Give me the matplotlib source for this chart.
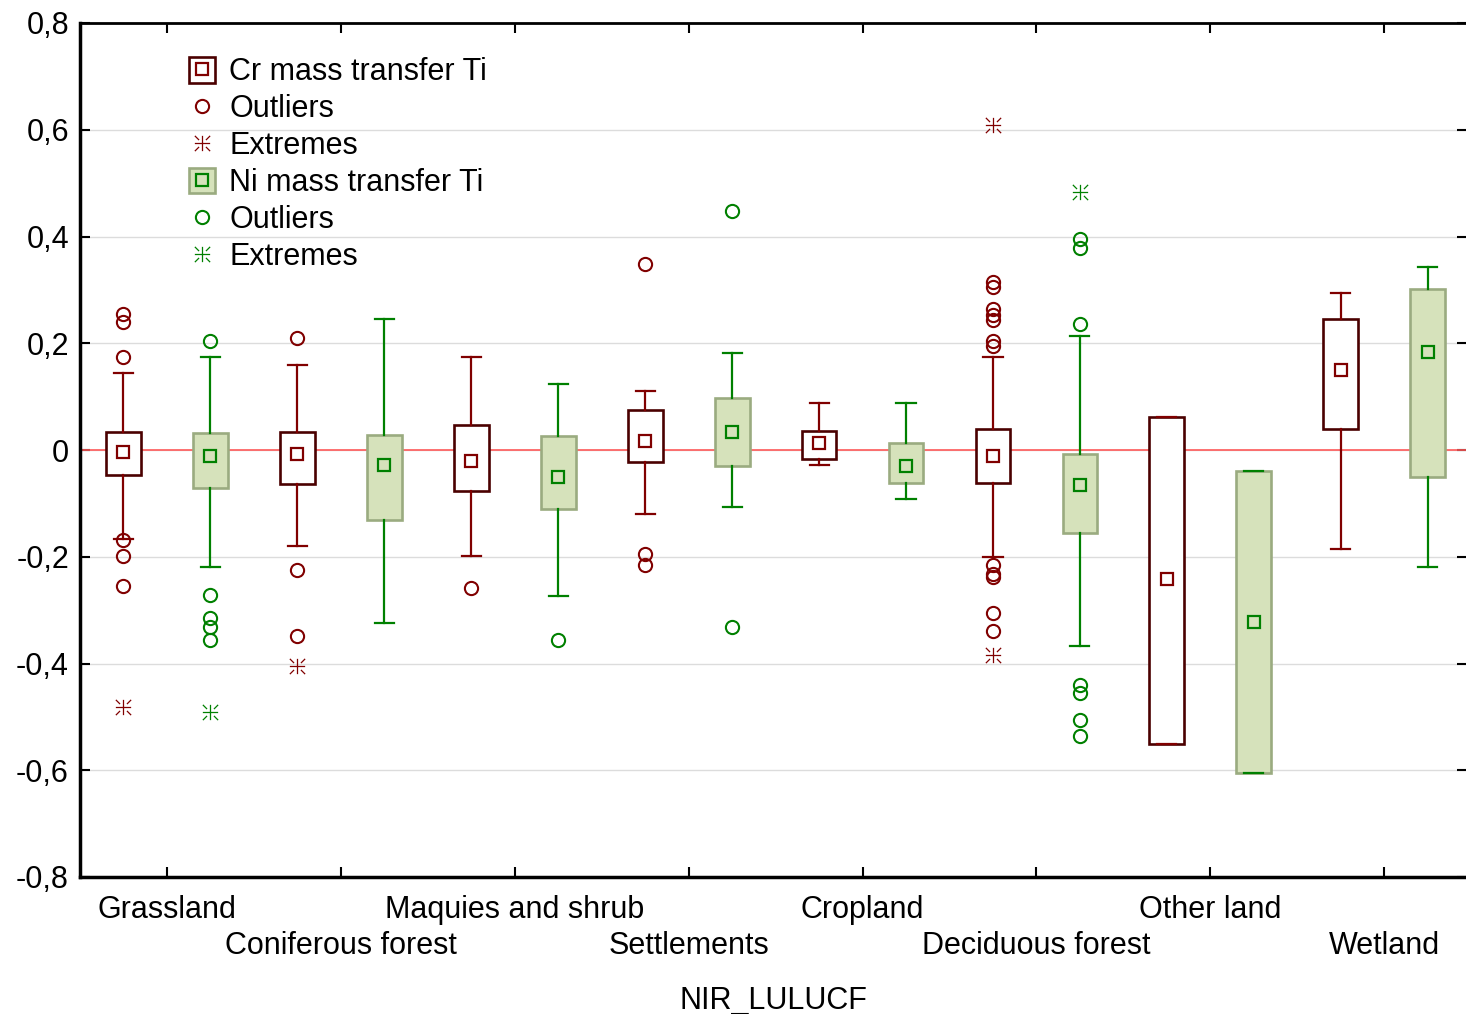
import numpy as np
import matplotlib
matplotlib.use("Agg")
import matplotlib.pyplot as plt
from matplotlib.path import Path
from matplotlib.patches import Patch
from matplotlib.lines import Line2D
from matplotlib.legend_handler import HandlerTuple

plt.rcParams['font.family'] = ['Liberation Sans', 'DejaVu Sans']

# categories along NIR_LULUCF
cats = ['Grassland', 'Coniferous forest', 'Maquies and shrub', 'Settlements',
        'Cropland', 'Deciduous forest', 'Other land', 'Wetland']

# Cr mass transfer Ti
cr_mid = [-0.004, -0.008, -0.021, 0.017, 0.013, -0.011, -0.242, 0.149]
cr_q1 = [-0.047, -0.064, -0.077, -0.022, -0.017, -0.061, -0.551, 0.040]
cr_q3 = [0.034, 0.034, 0.046, 0.075, 0.036, 0.040, 0.061, 0.245]
cr_lo = [-0.167, -0.179, -0.199, -0.120, -0.028, -0.200, -0.551, -0.186]
cr_hi = [0.144, 0.159, 0.174, 0.110, 0.088, 0.175, 0.061, 0.295]
cr_out = [[0.254, 0.239, 0.175, -0.169, -0.199, -0.254],
          [0.209, -0.224, -0.348],
          [-0.259],
          [0.348, -0.195, -0.215],
          [],
          [0.315, 0.306, 0.265, 0.252, 0.243, 0.205, 0.195,
           -0.215, -0.232, -0.238, -0.305, -0.339],
          [],
          []]
cr_ext = [[-0.482], [-0.405], [], [], [], [0.608, -0.384], [], []]

# Ni mass transfer Ti
ni_mid = [-0.012, -0.029, -0.051, 0.034, -0.030, -0.066, -0.322, 0.184]
ni_q1 = [-0.071, -0.131, -0.110, -0.030, -0.062, -0.155, -0.606, -0.050]
ni_q3 = [0.031, 0.028, 0.026, 0.097, 0.013, -0.007, -0.039, 0.302]
ni_lo = [-0.219, -0.324, -0.274, -0.107, -0.092, -0.368, -0.606, -0.219]
ni_hi = [0.174, 0.246, 0.124, 0.182, 0.088, 0.213, -0.039, 0.343]
ni_out = [[0.205, -0.271, -0.314, -0.331, -0.356],
          [],
          [-0.356],
          [0.448, -0.332],
          [],
          [0.395, 0.378, 0.237, -0.441, -0.455, -0.505, -0.536],
          [],
          []]
ni_ext = [[-0.491], [], [], [], [], [0.483], [], []]

yticks = [-0.8, -0.6, -0.4, -0.2, 0, 0.2, 0.4, 0.6, 0.8]
ytick_labels = ['-0,8', '-0,6', '-0,4', '-0,2', '0', '0,2', '0,4', '0,6', '0,8']

FS = 22

# extreme marker: cross with detached corner strokes
verts = [(-1, 0), (1, 0), (0, -1), (0, 1),
         (-1, 1), (-0.45, 0.45), (1, 1), (0.45, 0.45),
         (-1, -1), (-0.45, -0.45), (1, -1), (0.45, -0.45)]
codes = [Path.MOVETO, Path.LINETO] * 6
ext_marker = Path(verts, codes)

CR_EDGE = '#4a0000'
CR_LINE = '#800000'
NI_EDGE = '#9aab80'
NI_FACE = '#d6e2bb'
NI_LINE = '#008000'

fig = plt.figure(figsize=(14.66, 10.14), dpi=100)
ax = fig.add_axes([80 / 1466, 137 / 1014, 1387 / 1466, 854 / 1014])

x = np.arange(len(cats))
off = 0.25
w = 0.2


def stats(mid, q1, q3, lo, hi):
    return [dict(med=m, q1=a, q3=b, whislo=c, whishi=d, fliers=[])
            for m, a, b, c, d in zip(mid, q1, q3, lo, hi)]


ax.bxp(stats(cr_mid, cr_q1, cr_q3, cr_lo, cr_hi), positions=x - off, widths=w,
       patch_artist=True, showfliers=False, capwidths=0.11,
       boxprops=dict(facecolor='white', edgecolor=CR_EDGE, linewidth=1.9),
       whiskerprops=dict(color=CR_LINE, linewidth=1.6),
       capprops=dict(color=CR_LINE, linewidth=1.6),
       medianprops=dict(linewidth=0), zorder=3)
ax.bxp(stats(ni_mid, ni_q1, ni_q3, ni_lo, ni_hi), positions=x + off, widths=w,
       patch_artist=True, showfliers=False, capwidths=0.11,
       boxprops=dict(facecolor=NI_FACE, edgecolor=NI_EDGE, linewidth=1.9),
       whiskerprops=dict(color=NI_LINE, linewidth=1.6),
       capprops=dict(color=NI_LINE, linewidth=1.6),
       medianprops=dict(linewidth=0), zorder=3)

ax.plot(x - off, cr_mid, 's', ms=9, mfc='white', mec=CR_LINE, mew=1.6, ls='none', zorder=4)
ax.plot(x + off, ni_mid, 's', ms=9, mfc=NI_FACE, mec=NI_LINE, mew=1.6, ls='none', zorder=4)

for i in range(len(cats)):
    ax.plot([x[i] - off] * len(cr_out[i]), cr_out[i], 'o', ms=9.5, mfc='none',
            mec=CR_LINE, mew=1.5, ls='none', zorder=4)
    ax.plot([x[i] + off] * len(ni_out[i]), ni_out[i], 'o', ms=9.5, mfc='none',
            mec=NI_LINE, mew=1.5, ls='none', zorder=4)
    ax.plot([x[i] - off] * len(cr_ext[i]), cr_ext[i], ls='none', marker=ext_marker,
            ms=11, mec=CR_LINE, mew=0.9, zorder=4)
    ax.plot([x[i] + off] * len(ni_ext[i]), ni_ext[i], ls='none', marker=ext_marker,
            ms=11, mec=NI_LINE, mew=0.9, zorder=4)

ax.axhline(0, color='#ff5a5a', lw=1.2, zorder=2)

ax.set_xlim(-0.5, -0.5 + 1387 / 173.9)
ax.set_ylim(-0.8, 0.8)
ax.set_yticks(yticks)
ax.set_yticklabels(ytick_labels)
# staggered category labels: even ones on major ticks, odd ones on minor ticks
ax.set_xticks(x[::2])
ax.set_xticklabels(cats[::2])
ax.set_xticks(x[1::2], minor=True)
ax.set_xticklabels(cats[1::2], minor=True)
ax.yaxis.grid(True, color='#dcdcdc', lw=1.0, zorder=0)
ax.set_axisbelow(True)
ax.tick_params(axis='both', which='both', direction='in', length=7, width=1.5,
               labelsize=FS, top=True, right=True)
ax.tick_params(axis='x', which='major', pad=13)
ax.tick_params(axis='x', which='minor', pad=39)
ax.tick_params(axis='y', pad=8)
for s in ['left', 'bottom']:
    ax.spines[s].set_linewidth(2.5)
ax.spines['top'].set_linewidth(2.0)
ax.spines['right'].set_visible(False)
ax.set_xlabel('NIR_LULUCF', fontsize=FS)
ax.xaxis.set_label_coords(0.5, -0.128)

# legend
cr_box = (Patch(facecolor='white', edgecolor=CR_EDGE, linewidth=1.9),
          Line2D([], [], marker='s', ms=9, mfc='white', mec=CR_LINE, mew=1.6, ls='none'))
ni_box = (Patch(facecolor=NI_FACE, edgecolor=NI_EDGE, linewidth=1.9),
          Line2D([], [], marker='s', ms=9, mfc=NI_FACE, mec=NI_LINE, mew=1.6, ls='none'))
handles = [cr_box,
           Line2D([], [], marker='o', ms=9.5, mfc='none', mec=CR_LINE, mew=1.5, ls='none'),
           Line2D([], [], marker=ext_marker, ms=11, mec=CR_LINE, mew=0.9, ls='none'),
           ni_box,
           Line2D([], [], marker='o', ms=9.5, mfc='none', mec=NI_LINE, mew=1.5, ls='none'),
           Line2D([], [], marker=ext_marker, ms=11, mec=NI_LINE, mew=0.9, ls='none')]
labels = ['Cr mass transfer Ti', 'Outliers', 'Extremes',
          'Ni mass transfer Ti', 'Outliers', 'Extremes']
ax.legend(handles, labels, loc='upper left', bbox_to_anchor=(0.0634, 0.985),
          frameon=False, fontsize=FS, handlelength=0.85, handleheight=0.9,
          handletextpad=0.45, labelspacing=0.22, borderpad=0.2,
          handler_map={tuple: HandlerTuple(ndivide=1, pad=0)})

fig.savefig('out.png', dpi=100)
